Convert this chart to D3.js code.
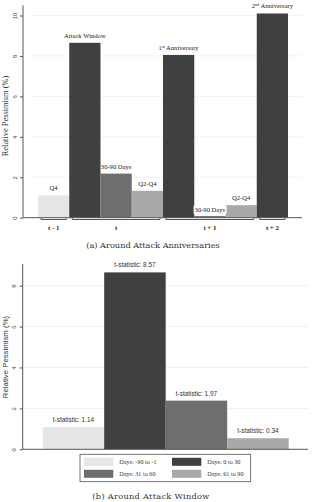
<!DOCTYPE html>
<html>
<head>
<meta charset="utf-8">
<script src="https://cdn.jsdelivr.net/npm/d3@7/dist/d3.min.js"></script>
<style>
  body { margin: 0; background: #fff; }
  svg { display: block; }
</style>
</head>
<body>
<div id="chart"></div>
<script>
// panel (a) data
var topLabels = ["Q4", "Attack Window", "30-90 Days", "Q2-Q4", "1st Anniversary", "30-90 Days", "Q2-Q4", "2nd Anniversary"];
var topValues = [1.1, 8.65, 2.18, 1.33, 8.05, 0.08, 0.62, 10.1];
var topShade = ["light", "dark", "mid", "grey", "dark", "mid", "grey", "dark"];
var groupNames = ["t - 1", "t", "t + 1", "t + 2"];
var groupFirst = [0, 1, 4, 7];
var groupLast = [0, 3, 6, 7];
var topTicks = [0, 2, 4, 6, 8, 10];

// panel (b) data
var windowCats = ["Days: -90 to -1", "Days: 0 to 30", "Days: 31 to 60", "Days: 61 to 90"];
var windowValues = [1.09, 8.65, 2.38, 0.54];
var windowTstats = ["1.14", "8.57", "1.97", "0.34"];
var windowShade = ["light", "dark", "mid", "grey"];
var bottomTicks = [0, 2, 4, 6, 8];

var shades = {light: "#e6e6e6", dark: "#404040", mid: "#6e6e6e", grey: "#a9a9a9"};
var serif = "'Liberation Serif', 'DejaVu Serif', serif";
var sans = "'Liberation Sans', Arial, sans-serif";

var svg = d3.select("#chart").append("svg").attr("width", 316).attr("height", 502);

/* ---------- panel (a) ---------- */
var ya = d3.scaleLinear().domain([0, 10.5]).range([217.7, 5.4]);
var xa = d3.scaleBand().domain(d3.range(topValues.length)).range([38, 288]).padding(0);

var ga = svg.append("g");

ga.selectAll("line.grid").data(topTicks.slice(1)).enter().append("line")
    .attr("x1", 30).attr("x2", 302)
    .attr("y1", function (d) { return ya(d); }).attr("y2", function (d) { return ya(d); })
    .attr("stroke", "#f0f0f0").attr("stroke-width", 0.8);

ga.selectAll("rect.bar").data(topValues).enter().append("rect")
    .attr("x", function (d, i) { return xa(i); })
    .attr("width", xa.bandwidth())
    .attr("y", function (d) { return ya(d); })
    .attr("height", function (d) { return ya(0) - ya(d); })
    .attr("fill", function (d, i) { return shades[topShade[i]]; });

var axA = ga.append("g").attr("transform", "translate(23,0)")
    .call(d3.axisLeft(ya).tickValues(topTicks).tickSize(3).tickFormat(d3.format("d")));
axA.select(".domain").attr("stroke", "#555").attr("d", "M0," + ya(10.5) + "V" + ya(0));
axA.selectAll(".tick line").attr("stroke", "#555");
axA.selectAll(".tick text").attr("font-family", sans).attr("font-size", 6).attr("fill", "#444")
    .attr("transform", "rotate(-90)").attr("x", 0).attr("dy", 0)
    .attr("text-anchor", "middle")
    .attr("y", -6);

ga.append("line").attr("x1", 23).attr("x2", 302).attr("y1", ya(0)).attr("y2", ya(0))
    .attr("stroke", "#555").attr("stroke-width", 1);

// bar labels
var labA = ga.selectAll("text.blab").data(topValues).enter().append("text")
    .attr("class", "blab")
    .attr("x", function (d, i) { return xa(i) + xa.bandwidth() / 2; })
    .attr("y", function (d, i) { return i == 5 ? ya(0) - 5.5 : ya(d) - 5; })
    .attr("text-anchor", "middle").attr("font-family", serif).attr("font-size", 6.6).attr("fill", "#222");

labA.each(function (d, i) {
    var t = d3.select(this);
    var lab = topLabels[i];
    var m = lab.match(/^(\d)(st|nd|rd|th) (.*)$/);
    if (m) {
        t.append("tspan").text(m[1]);
        t.append("tspan").attr("font-size", 4.3).attr("dy", -2.4).text(m[2]);
        t.append("tspan").attr("dy", 2.4).text(" " + m[3]);
    } else {
        t.text(lab);
    }
});

// white box behind the near-zero bar label
var lb = labA.filter(function (d, i) { return i == 5; }).node().getBBox();
ga.insert("rect", "text.blab").attr("x", lb.x - 1).attr("y", lb.y - 0.5)
    .attr("width", lb.width + 2).attr("height", lb.height + 1).attr("fill", "#fff");

// group brackets
groupNames.forEach(function (name, k) {
    var x0 = xa(groupFirst[k]) + 3;
    var x1 = xa(groupLast[k]) + xa.bandwidth() - 3;
    var yb = 219.5;
    ga.append("path")
        .attr("d", "M" + x0 + "," + (yb - 1.5) + "V" + yb + "H" + x1 + "V" + (yb - 1.5))
        .attr("fill", "none").attr("stroke", "#444").attr("stroke-width", 0.9);
    ga.append("text").attr("x", (x0 + x1) / 2).attr("y", 230)
        .attr("text-anchor", "middle").attr("font-family", serif).attr("font-weight", "bold")
        .attr("font-size", 6.8).attr("fill", "#222").text(name);
});

ga.append("text").attr("transform", "translate(8," + 116 + ") rotate(-90)")
    .attr("text-anchor", "middle").attr("font-family", serif).attr("font-size", 8.4).attr("fill", "#333")
    .text("Relative Pessimism (%)");

svg.append("text").attr("x", 153).attr("y", 248).attr("text-anchor", "middle")
    .attr("font-family", "'DejaVu Serif', serif").attr("font-size", 8.2)
    .attr("fill", "#333")
    .text("(a) Around Attack Anniversaries");

/* ---------- panel (b) ---------- */
var yb = d3.scaleLinear().domain([0, 9.06]).range([449.3, 264]);
var xb = d3.scaleBand().domain(windowCats).range([42.7, 288.7]).padding(0);

var gb = svg.append("g");

gb.selectAll("line.grid").data(bottomTicks.slice(1)).enter().append("line")
    .attr("x1", 24).attr("x2", 308)
    .attr("y1", function (d) { return yb(d); }).attr("y2", function (d) { return yb(d); })
    .attr("stroke", "#eeeeee").attr("stroke-width", 0.9);

gb.selectAll("rect.bar").data(windowValues).enter().append("rect")
    .attr("x", function (d, i) { return xb(windowCats[i]); })
    .attr("width", xb.bandwidth())
    .attr("y", function (d) { return yb(d); })
    .attr("height", function (d) { return yb(0) - yb(d); })
    .attr("fill", function (d, i) { return shades[windowShade[i]]; });

gb.selectAll("text.tstat").data(windowValues).enter().append("text")
    .attr("x", function (d, i) { return xb(windowCats[i]) + xb.bandwidth() / 2; })
    .attr("y", function (d) { return yb(d) - 5; })
    .attr("text-anchor", "middle").attr("font-family", sans).attr("font-size", 6.4).attr("fill", "#333")
    .text(function (d, i) { return "t-statistic: " + windowTstats[i]; });

var axB = gb.append("g").attr("transform", "translate(22.7,0)")
    .call(d3.axisLeft(yb).tickValues(bottomTicks).tickSize(3).tickFormat(d3.format("d")));
axB.select(".domain").attr("stroke", "#555").attr("d", "M0," + yb(9.06) + "V" + yb(0));
axB.selectAll(".tick line").attr("stroke", "#555");
axB.selectAll(".tick text").attr("font-family", sans).attr("font-size", 6).attr("fill", "#444")
    .attr("transform", "rotate(-90)").attr("x", 0).attr("dy", 0)
    .attr("text-anchor", "middle")
    .attr("y", -7);

gb.append("line").attr("x1", 22.7).attr("x2", 308).attr("y1", yb(0)).attr("y2", yb(0))
    .attr("stroke", "#555").attr("stroke-width", 1);

gb.append("text").attr("transform", "translate(7.5," + 357 + ") rotate(-90)")
    .attr("text-anchor", "middle").attr("font-family", sans).attr("font-size", 7.8).attr("fill", "#333")
    .text("Relative Pessimism (%)");

// legend
var lg = gb.append("g").attr("transform", "translate(80,454.3)");
lg.append("rect").attr("width", 170.7).attr("height", 27.4)
    .attr("fill", "#fff").attr("stroke", "#555").attr("stroke-width", 0.8);
windowCats.forEach(function (c, i) {
    var col = i % 2, row = Math.floor(i / 2);
    var sx = 4 + col * 88, sy = 3.5 + row * 12;
    lg.append("rect").attr("x", sx).attr("y", sy).attr("width", 29.3).attr("height", 8)
        .attr("fill", shades[windowShade[i]]);
    lg.append("text").attr("x", sx + 35.3).attr("y", sy + 6.3)
        .attr("font-family", serif).attr("font-size", 6.2).attr("fill", "#333").text(c);
});

svg.append("text").attr("x", 151).attr("y", 499).attr("text-anchor", "middle")
    .attr("font-family", "'DejaVu Serif', serif").attr("font-size", 8.2)
    .attr("letter-spacing", 0.3).attr("fill", "#333")
    .text("(b) Around Attack Window");
</script>
</body>
</html>
